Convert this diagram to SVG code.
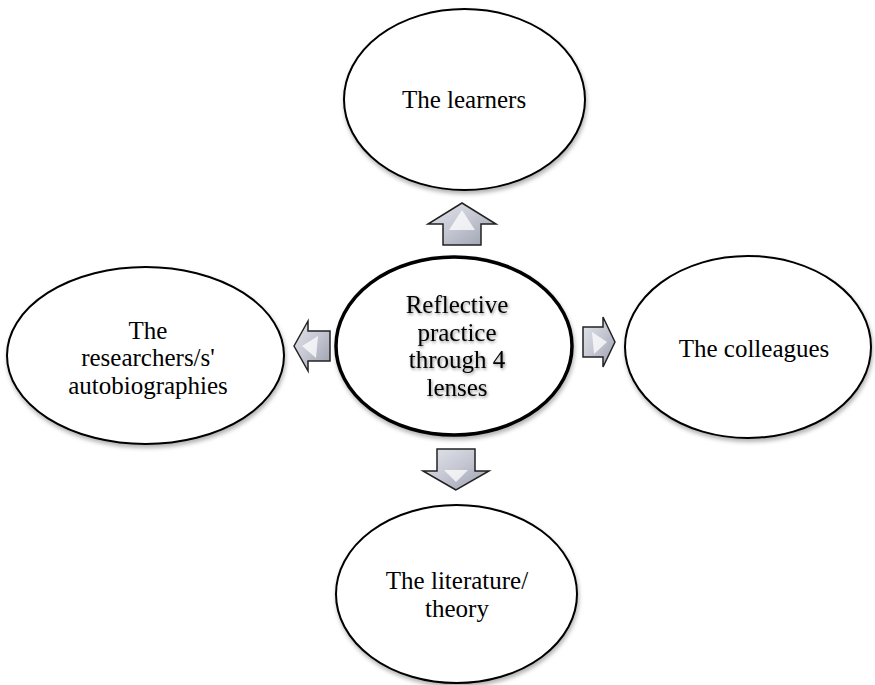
<svg xmlns="http://www.w3.org/2000/svg" width="875" height="685" viewBox="0 0 875 685">
<defs>
<filter id="sh" x="-10%" y="-10%" width="120%" height="125%">
<feDropShadow dx="1" dy="3" stdDeviation="2" flood-color="#000" flood-opacity="0.3"/>
</filter>
<filter id="tsh" x="-20%" y="-20%" width="140%" height="140%">
<feDropShadow dx="1" dy="1.5" stdDeviation="1.5" flood-color="#000" flood-opacity="0.45"/>
</filter>
<linearGradient id="ag" x1="0" y1="0" x2="1" y2="1">
<stop offset="0" stop-color="#e4e6ec"/>
<stop offset="0.5" stop-color="#c4c7d2"/>
<stop offset="1" stop-color="#9a9eac"/>
</linearGradient>
</defs>
<style>
.n{fill:#fff;stroke:#000;stroke-width:2;filter:url(#sh)}
.c{fill:#fff;stroke:#000;stroke-width:3.5;filter:url(#sh)}
.t{font-family:"Liberation Serif","Times New Roman",serif;font-size:25px;fill:#000;text-anchor:middle}
.ts{filter:url(#tsh)}
.a{fill:url(#ag);stroke:#222;stroke-width:1.5;stroke-linejoin:miter}
.hl{fill:#fff;opacity:0.75}
</style>
<rect width="875" height="685" fill="#fff"/>
<g id="connectors">
<g id="arrow-up">
<polygon class="a" points="462,203 496,224 481,224 481,245 443,245 443,224 428,224"/>
<polygon class="hl" points="462,210 475,230 449,230"/>
</g>
<g id="arrow-right">
<polygon class="a" points="615,342 603,317 603,327 583,327 583,357 603,357 603,367"/>
<polygon class="hl" points="607,342 592,332 594,354"/>
</g>
<g id="arrow-down">
<polygon class="a" points="456,490 423,471 437,471 437,449 475,449 475,471 489,471"/>
<polygon class="hl" points="456,482 444,470 468,470"/>
</g>
<g id="arrow-left">
<polygon class="a" points="294,346 308,321 308,331 330,331 330,361 308,361 308,371"/>
<polygon class="hl" points="302,346 318,336 316,358"/>
</g>
</g>
<g id="node-center">
<ellipse class="c" cx="454" cy="346" rx="118" ry="89"/>
<g class="ts">
<text class="t" x="457" y="313">Reflective</text>
<text class="t" x="457" y="340.5">practice</text>
<text class="t" x="457" y="368">through 4</text>
<text class="t" x="457" y="395.5">lenses</text>
</g>
</g>
<g id="node-top">
<ellipse class="n" cx="464.5" cy="99.5" rx="120.5" ry="90.5"/>
<text class="t" x="464" y="108">The learners</text>
</g>
<g id="node-right">
<ellipse class="n" cx="748" cy="347" rx="123" ry="91"/>
<text class="t" x="754" y="357">The colleagues</text>
</g>
<g id="node-bottom">
<ellipse class="n" cx="456.5" cy="594" rx="120.5" ry="89"/>
<text class="t" x="457" y="589">The literature/</text>
<text class="t" x="457" y="616.5">theory</text>
</g>
<g id="node-left">
<ellipse class="n" cx="145.5" cy="355.5" rx="138.5" ry="88.5"/>
<text class="t" x="148" y="338.5">The</text>
<text class="t" x="148" y="366">researchers/s'</text>
<text class="t" x="148" y="393.5">autobiographies</text>
</g>
</svg>
